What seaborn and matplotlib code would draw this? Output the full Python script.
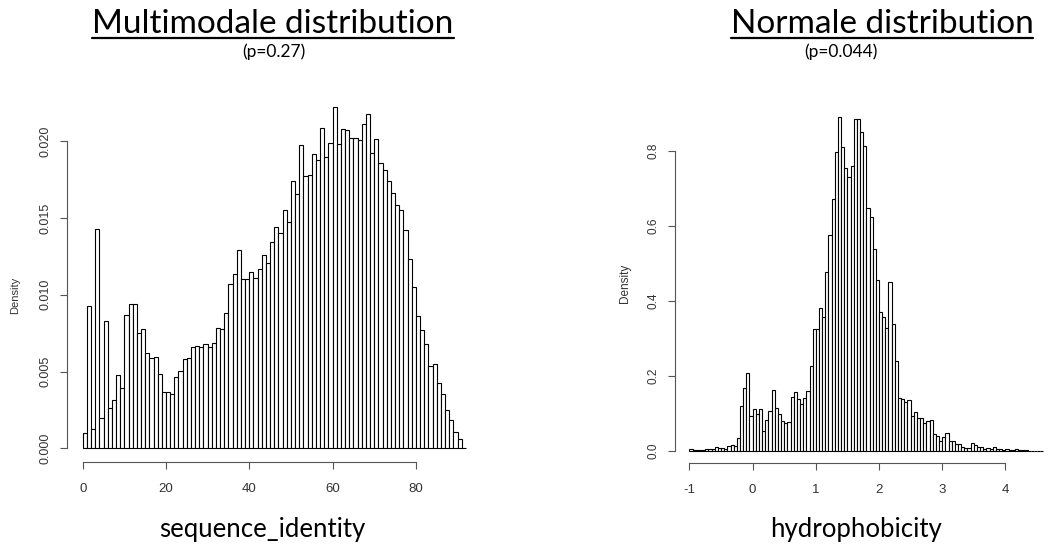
#!/usr/bin/env python3
import numpy as np
import pandas as pd
import seaborn as sns
import matplotlib.pyplot as plt
from matplotlib import font_manager
from matplotlib.lines import Line2D

# ---------- Data ----------
# left panel: sequence_identity, bins of width 1 starting at 0
seq_bin_width = 1.0
seq_start = 0.0
seq_density = [
    0.00102, 0.00926, 0.00124, 0.01425, 0.00200, 0.00829, 0.00265, 0.00315,
    0.00477, 0.00390, 0.00868, 0.00937, 0.00937, 0.00753, 0.00774, 0.00618,
    0.00590, 0.00596, 0.00484, 0.00369, 0.00364, 0.00351, 0.00466, 0.00503,
    0.00579, 0.00590, 0.00662, 0.00668, 0.00662, 0.00677, 0.00662, 0.00683,
    0.00781, 0.00774, 0.00883, 0.01070, 0.01134, 0.01290, 0.01100, 0.01100,
    0.01148, 0.01109, 0.01165, 0.01261, 0.01209, 0.01343, 0.01439, 0.01400,
    0.01549, 0.01473, 0.01738, 0.01656, 0.01977, 0.01773, 0.01777, 0.01918,
    0.01879, 0.02085, 0.01896, 0.01988, 0.02222, 0.01983, 0.02077, 0.02070,
    0.02022, 0.02022, 0.02005, 0.02110, 0.02174, 0.01923, 0.02016, 0.01857,
    0.01810, 0.01740, 0.01662, 0.01582, 0.01554, 0.01424, 0.01230, 0.01050,
    0.00861, 0.00768, 0.00681, 0.00534, 0.00547, 0.00425, 0.00356, 0.00252,
    0.00182, 0.00106, 0.00063, 0.00005,
]
seq_xticks = [0, 20, 40, 60, 80]
seq_yticks = [0.000, 0.005, 0.010, 0.015, 0.020]
seq_yticklabels = ["0.000", "0.005", "0.010", "0.015", "0.020"]

# right panel: hydrophobicity, bins of width 0.05 starting at -1
hyd_bin_width = 0.05
hyd_start = -1.0
hyd_density = [
    0.0036, 0.0010, 0.0010, 0.0010, 0.0010, 0.0036, 0.0036, 0.0050,
    0.0090, 0.0060, 0.0060, 0.0050, 0.0116, 0.0150, 0.0124, 0.0350,
    0.1190, 0.1680, 0.2070, 0.0920, 0.1110, 0.0990, 0.1110, 0.0520,
    0.0810, 0.1070, 0.1610, 0.1140, 0.0980, 0.0790, 0.0730, 0.0760,
    0.1440, 0.1560, 0.1370, 0.1240, 0.1400, 0.1580, 0.2260, 0.3240,
    0.3240, 0.3800, 0.3560, 0.4770, 0.5750, 0.6710, 0.7960, 0.8890,
    0.8110, 0.7530, 0.7310, 0.7600, 0.8850, 0.8850, 0.8500, 0.8120,
    0.6480, 0.6240, 0.5380, 0.4540, 0.3700, 0.3570, 0.3270, 0.4500,
    0.3380, 0.2400, 0.1400, 0.1370, 0.1290, 0.1350, 0.0920, 0.1020,
    0.0860, 0.0860, 0.0730, 0.0800, 0.0820, 0.0436, 0.0390, 0.0270,
    0.0360, 0.0460, 0.0260, 0.0270, 0.0170, 0.0170, 0.0110, 0.0060,
    0.0080, 0.0196, 0.0140, 0.0090, 0.0090, 0.0036, 0.0080, 0.0044,
    0.0098, 0.0036, 0.0036, 0.0027, 0.0036, 0.0020, 0.0020, 0.0036,
    0.0020, 0.0027, 0.0010, 0.0000, 0.0000, 0.0000, 0.0000, 0.0000,
]
hyd_xticks = [-1, 0, 1, 2, 3, 4]
hyd_yticks = [0.0, 0.2, 0.4, 0.6, 0.8]
hyd_yticklabels = ["0.0", "0.2", "0.4", "0.6", "0.8"]

titles = ["Multimodale distribution", "Normale distribution"]
subtitles = ["(p=0.27)", "(p=0.044)"]
xlabels = ["sequence_identity", "hydrophobicity"]

# ---------- Fonts ----------
installed = {f.name for f in font_manager.fontManager.ttflist}
slide_font = "Lato" if "Lato" in installed else "DejaVu Sans"

sns.set_theme(style="white")
plt.rcParams["font.family"] = ["Liberation Sans", "DejaVu Sans"]

W, H = 1059, 549
fig = plt.figure(figsize=(W / 100, H / 100), dpi=100)


def px_axes(left, top, right, bottom):
    # figure pixel box (y from top) -> axes
    return fig.add_axes([left / W, 1 - bottom / H, (right - left) / W, (bottom - top) / H])


def r_hist(ax, start, width, density, xlim, ylim, xticks, yticks, yticklabels, xsize, ysize):
    edges = (start + width * np.arange(len(density) + 1)).tolist()
    df = pd.DataFrame({"x": [e + width / 2 for e in edges[:-1]], "d": density})
    sns.histplot(data=df, x="x", weights="d", bins=edges, stat="count",
                 color="white", edgecolor="black", linewidth=0.8, alpha=1, ax=ax)
    ax.set_xlim(*xlim)
    ax.set_ylim(*ylim)
    ax.set_xlabel("")
    ax.set_ylabel("")
    for s in ["top", "right"]:
        ax.spines[s].set_visible(False)
    for s in ["left", "bottom"]:
        ax.spines[s].set_color("#555555")
        ax.spines[s].set_linewidth(0.8)
    ax.spines["bottom"].set_bounds(xticks[0], xticks[-1])
    ax.spines["left"].set_bounds(yticks[0], yticks[-1])
    ax.set_xticks(xticks)
    ax.set_xticklabels([str(t) for t in xticks])
    ax.set_yticks(yticks)
    ax.set_yticklabels(yticklabels, rotation=90, va="center")
    ax.tick_params(axis="both", direction="out", length=5, width=0.8,
                   color="#555555", labelcolor="#333333",
                   left=True, bottom=True)
    ax.tick_params(axis="x", pad=10, labelsize=xsize)
    ax.tick_params(axis="y", pad=6, labelsize=ysize)
    ax.patch.set_alpha(0)


# left panel: y axis at x=67, x axis at y=462.3; 0 -> 82.7 px, 4.165 px per unit
ax1 = px_axes(67, 95, 480, 462.3)
r_hist(ax1, seq_start, seq_bin_width, seq_density,
       ((67 - 82.7) / 4.165, (480 - 82.7) / 4.165),
       ((448.3 - 462.3) / 15360, (448.3 - 95) / 15360),
       seq_xticks, seq_yticks, seq_yticklabels, 9.5, 9)
fig.text(15 / W, 1 - 295 / H, "Density", rotation=90, ha="center", va="center",
         fontsize=8, color="#333333")

# right panel: y axis at x=675, x axis at y=463; -1 -> 690 px, 65.66 px per unit
ax2 = px_axes(675, 110, 1059, 463)
r_hist(ax2, hyd_start, hyd_bin_width, hyd_density,
       (-1 - 15 / 65.66, -1 + 384 / 65.66),
       ((450.7 - 463) / 375, (450.7 - 110) / 375),
       hyd_xticks, hyd_yticks, hyd_yticklabels, 9.5, 8.5)
fig.text(625 / W, 1 - 283 / H, "Density", rotation=90, ha="center", va="center",
         fontsize=8.5, color="#333333")

# ---------- Slide text ----------
title_cx = [273, 882]
sub_cx = [274, 841]
xlab_cx = [262, 856]
title_objs = []
for i in range(2):
    t = fig.text(title_cx[i] / W, 1 - 33 / H, titles[i], ha="center", va="baseline",
                 fontsize=24, family=[slide_font, "DejaVu Sans"], color="black")
    title_objs.append(t)
    fig.text(sub_cx[i] / W, 1 - 52 / H, subtitles[i], ha="center", va="center",
             fontsize=12.5, family=[slide_font, "DejaVu Sans"], color="black")
    fig.text(xlab_cx[i] / W, 1 - 530 / H, xlabels[i], ha="center", va="center",
             fontsize=18.5, family=[slide_font, "DejaVu Sans"], color="black")

# underline the titles
fig.canvas.draw()
renderer = fig.canvas.get_renderer()
for t in title_objs:
    bb = t.get_window_extent(renderer)
    y = (H - 38) / H
    fig.add_artist(Line2D([bb.x0 / W, bb.x1 / W], [y, y], transform=fig.transFigure,
                          color="black", linewidth=1.6))

fig.savefig("out.png", dpi=100)
